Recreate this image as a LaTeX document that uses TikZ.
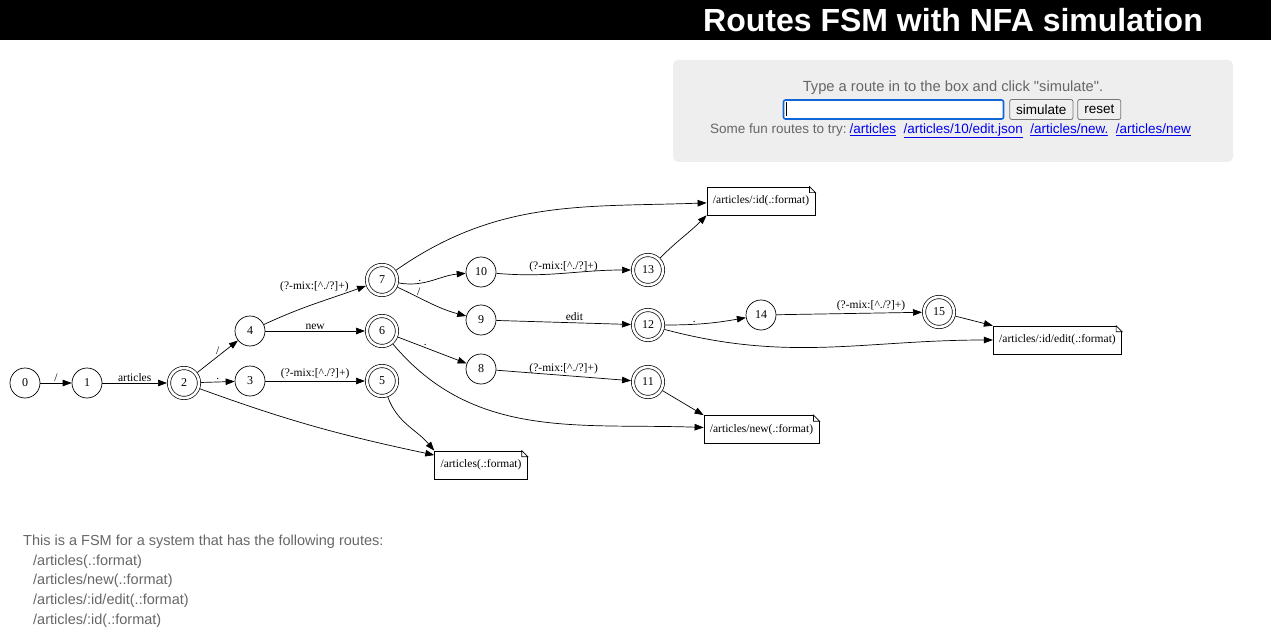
\documentclass[tikz,border=0pt]{standalone}
\usepackage{fontspec}
\setmainfont{Liberation Serif}
\newfontfamily\pagefont{Liberation Sans}
\usetikzlibrary{arrows.meta, positioning, calc}
\definecolor{formgray}{RGB}{238,238,238}
\definecolor{textgray}{RGB}{102,102,102}
\definecolor{linkblue}{RGB}{0,0,238}
\definecolor{focusblue}{RGB}{16,102,214}
\definecolor{buttongray}{RGB}{239,239,239}
\definecolor{buttonedge}{RGB}{118,118,118}
\newcommand{\segpat}{(?-mix:[\textasciicircum./?]+)}
\newcommand{\routelink}[1]{{\color{linkblue}\underline{#1}}}
\tikzset{
  fsmstate/.style={circle, draw, line width=0.7pt, minimum size=30pt, inner sep=0pt,
                   font=\fontsize{12}{14}\selectfont},
  fsmaccept/.style={fsmstate, double, double distance=2.6pt, outer sep=2pt},
  routenote/.style={draw, line width=0.7pt, minimum height=28pt, inner xsep=6pt,
                    font=\fontsize{11.5}{13}\selectfont},
  trans/.style={-{Triangle[length=9pt,width=6.5pt]}, line width=0.7pt},
  elabel/.style={font=\fontsize{11.5}{13}\selectfont, inner sep=1.5pt, above},
  uibutton/.style={draw=buttonedge, fill=buttongray, rounded corners=2pt, line width=0.8pt,
                   minimum height=20pt, inner xsep=6.5pt, inner ysep=0pt,
                   font=\pagefont\fontsize{13.5}{16}\selectfont}
}
\begin{document}
\begin{tikzpicture}[x=1pt, y=-1pt]
        \useasboundingbox (0,0) rectangle (1271,639);
        % page header
        \fill[black] (0,0) rectangle (1271,40);
        \node[text=white, font=\pagefont\bfseries\fontsize{32}{36}\selectfont] (title) at (953,20)
            {Routes FSM with NFA simulation};

        % simulation form
        \fill[formgray, rounded corners=5pt] (673,60) rectangle (1233,162);
        \node[text=textgray, font=\pagefont\fontsize{14.7}{17}\selectfont] (prompt) at (953,88)
            {Type a route in to the box and click "simulate".};
        \node[draw=focusblue, fill=white, line width=1.6pt, rounded corners=2pt,
              minimum width=220pt, minimum height=19pt, inner sep=0pt] (routebox) at (893.5,109.5) {};
        \draw[line width=0.8pt] ($(routebox.west)+(4,-7)$) -- ++(0,14);
        \node[uibutton, right=5pt of routebox] (simbtn) {simulate};
        \node[uibutton, right=4pt of simbtn] (resetbtn) {reset};
        \node[font=\pagefont\fontsize{13.5}{16}\selectfont] (tryline) at (950.5,131)
            {{\color{textgray}Some fun routes to try:}\hspace{3pt}\routelink{/articles}\hspace{7.5pt}%
             \routelink{/articles/10/edit.json}\hspace{7.5pt}\routelink{/articles/new.}\hspace{7.5pt}%
             \routelink{/articles/new}};

        % states
        \node[fsmstate] (s0) at (25,383) {0};
        \node[fsmstate] (s1) at (87,383) {1};
        \node[fsmaccept] (s2) at (184,383) {2};
        \node[fsmstate] (s3) at (250,381) {3};
        \node[fsmstate] (s4) at (250,331) {4};
        \node[fsmaccept] (s5) at (382,381) {5};
        \node[fsmaccept] (s6) at (382,331) {6};
        \node[fsmaccept] (s7) at (382,280) {7};
        \node[fsmstate] (s8) at (481,369) {8};
        \node[fsmstate] (s9) at (481,320) {9};
        \node[fsmstate] (s10) at (481,272) {10};
        \node[fsmaccept] (s11) at (648,382) {11};
        \node[fsmaccept] (s12) at (648,325) {12};
        \node[fsmaccept] (s13) at (648,270) {13};
        \node[fsmstate] (s14) at (761,315) {14};
        \node[fsmaccept] (s15) at (939,312) {15};

        % routes
        \node[routenote] (nid) at (761,201) {/articles/:id(.:format)};
        \node[routenote] (nedit) at (1057.5,340) {/articles/:id/edit(.:format)};
        \node[routenote] (nnew) at (761.5,429.5) {/articles/new(.:format)};
        \node[routenote] (nfmt) at (481,465) {/articles(.:format)};
        \foreach \n in {nid,nedit,nnew,nfmt} {
            \fill[white] ($(\n.north east)+(-6,-1)$) rectangle ($(\n.north east)+(1,6)$);
            \draw[line width=0.7pt] ($(\n.north east)+(-6,0)$) -- ($(\n.north east)+(0,6)$)
                -- ($(\n.north east)+(-6,6)$) -- cycle;
        }

        % transitions
        \draw[trans] (s0) -- node[elabel] {/} (s1);
        \draw[trans] (s1) -- node[elabel] {articles} (s2);
        \draw[trans] (s2) -- node[elabel] {/} (s4);
        \draw[trans] (s2) -- node[elabel] {.} (s3);
        \draw[trans] (s3) -- node[elabel] {\segpat} (s5);
        \draw[trans] (s4) -- node[elabel] {new} (s6);
        \draw[trans] (s4) to[out=25, in=200] node[elabel, pos=0.5, yshift=10pt] {\segpat} (s7);
        \draw[trans] (s7) to[out=-10, in=185] node[elabel, pos=0.3] {.} (s10);
        \draw[trans] (s7) to[out=-25, in=165] node[elabel, pos=0.3] {/} (s9);
        \draw[trans] (s6) -- node[elabel, pos=0.4] {.} (s8);
        \draw[trans] (s10) to[out=-5, in=180] node[elabel] {\segpat} (s13);
        \draw[trans] (s9) -- node[elabel, pos=0.58] {edit} (s12);
        \draw[trans] (s8) -- node[elabel] {\segpat} (s11);
        \draw[trans] (s12) to[out=0, in=190] node[elabel, pos=0.35] {.} (s14);
        \draw[trans] (s14) -- node[elabel, pos=0.65] {\segpat} (s15);

        % accepting states to routes
        \draw[trans] (s7) to[out=35, in=182] (nid);
        \draw[trans] (s13) to[out=45, in=225] (nid.south west);
        \draw[trans] (s12) to[out=-15, in=180] (nedit);
        \draw[trans] (s15) -- (nedit.north west);
        \draw[trans] (s6) to[out=-50, in=178] (nnew);
        \draw[trans] (s11) -- (nnew.north west);
        \draw[trans] (s2) to[out=-20, in=168] (nfmt);
        \draw[trans] (s5) to[out=-70, in=130] (nfmt.north west);

        % description
        \node[anchor=north west, align=left, text=textgray, inner sep=0pt,
              font=\pagefont\fontsize{14.5}{19.6}\selectfont] (about) at (23,535)
            {This is a FSM for a system that has the following routes:\\
             \hspace*{10pt}/articles(.:format)\\
             \hspace*{10pt}/articles/new(.:format)\\
             \hspace*{10pt}/articles/:id/edit(.:format)\\
             \hspace*{10pt}/articles/:id(.:format)};
    \end{tikzpicture}
\end{document}
